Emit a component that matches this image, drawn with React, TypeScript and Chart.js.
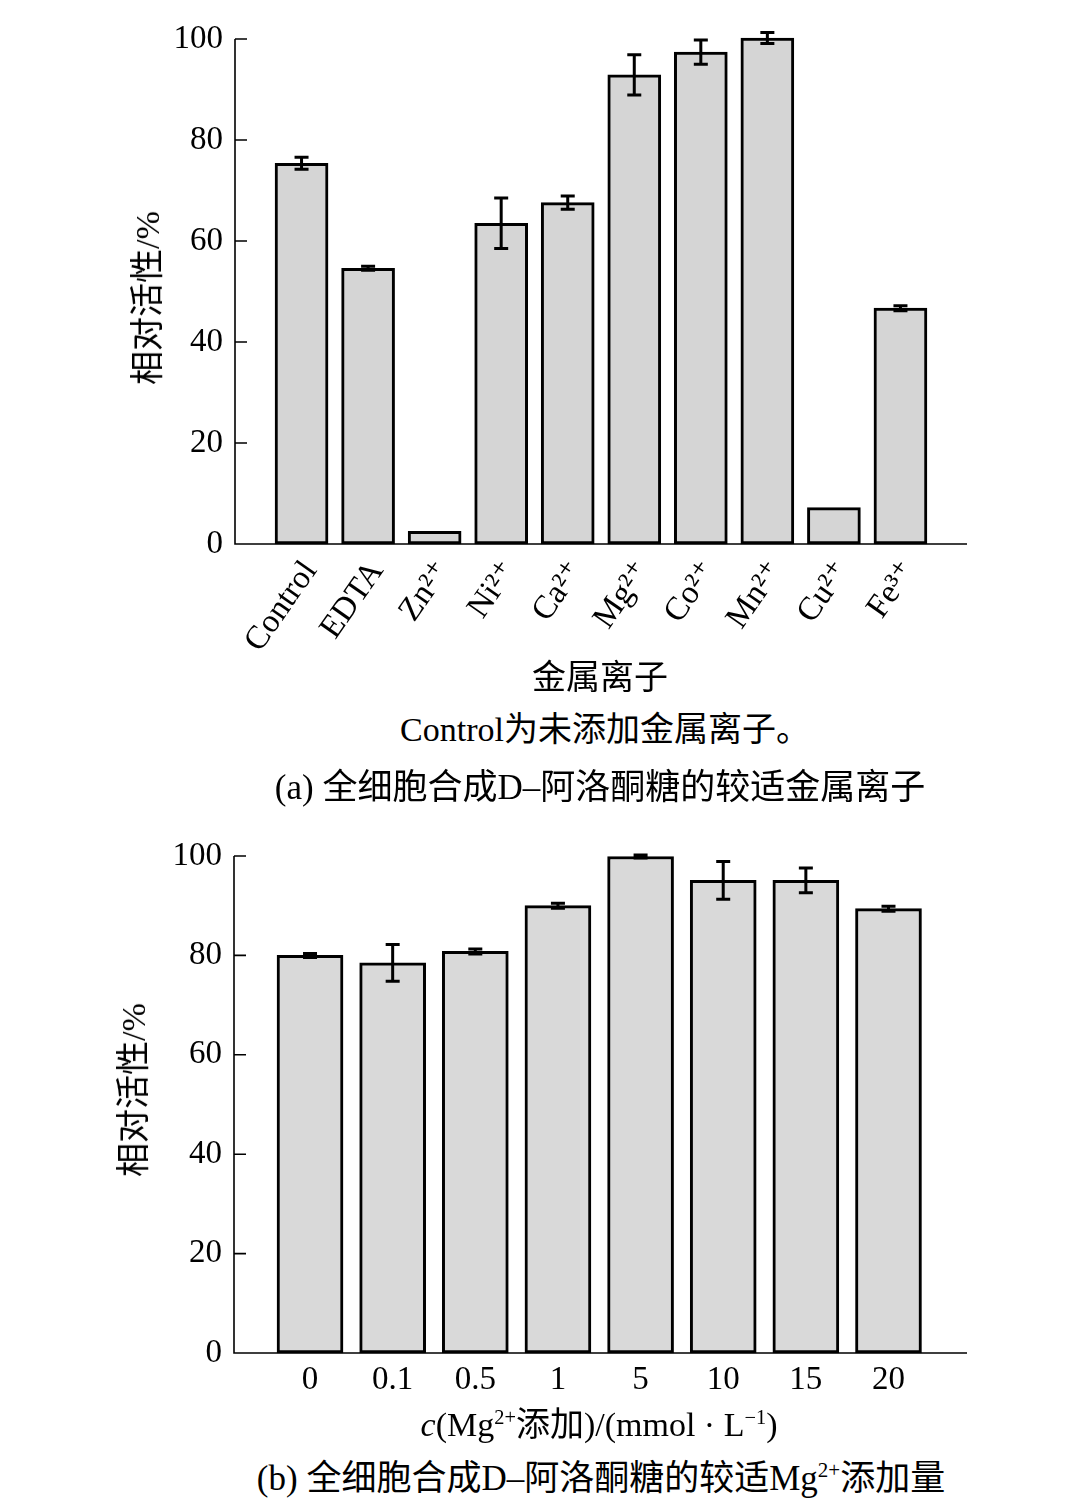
import React, { useEffect, useRef } from "react";
import { Chart, registerables } from "chart.js";

Chart.register(...registerables);

// ---- Data ----
const ionLabels = ["Control", "EDTA", "Zn²⁺", "Ni²⁺", "Ca²⁺", "Mg²⁺", "Co²⁺", "Mn²⁺", "Cu²⁺", "Fe³⁺"];
const ionActivity = [75.4, 54.6, 2.5, 63.5, 67.6, 92.9, 97.4, 100.2, 7.2, 46.7];
const ionError = [1.2, 0.4, 0, 5.0, 1.3, 4.0, 2.4, 1.1, 0, 0.5];

const mgLabels = ["0", "0.1", "0.5", "1", "5", "10", "15", "20"];
const mgActivity = [80.0, 78.5, 80.8, 90.0, 99.9, 95.1, 95.1, 89.4];
const mgError = [0.4, 3.7, 0.5, 0.5, 0.3, 3.8, 2.5, 0.5];

const yTicks = [0, 20, 40, 60, 80, 100];

const SERIF = '"Liberation Serif", "Times New Roman", "DejaVu Serif", serif';
const TEXT_FONT = '"Liberation Serif", "Noto Sans CJK SC", serif';

function makeAxesPlugin(values: number[], errors: number[]) {
  return {
    id: "customAxesErr",
    afterDatasetsDraw(chart: any) {
      const ctx = chart.ctx;
      const meta = chart.getDatasetMeta(0);
      const ys = chart.scales.y;
      ctx.save();
      ctx.strokeStyle = "#000";
      ctx.lineWidth = 3;
      ctx.lineCap = "butt";
      meta.data.forEach((bar: any, i: number) => {
        const e = errors[i];
        if (!e) return;
        const v = values[i];
        const x = bar.x;
        const yt = ys.getPixelForValue(v + e);
        const yb = ys.getPixelForValue(v - e);
        ctx.beginPath();
        ctx.moveTo(x, yt);
        ctx.lineTo(x, yb);
        ctx.moveTo(x - 7, yt);
        ctx.lineTo(x + 7, yt);
        ctx.moveTo(x - 7, yb);
        ctx.lineTo(x + 7, yb);
        ctx.stroke();
      });
      ctx.restore();
    },
    afterDraw(chart: any) {
      const ctx = chart.ctx;
      const { left, right, top, bottom } = chart.chartArea;
      const ys = chart.scales.y;
      ctx.save();
      ctx.strokeStyle = "#000";
      ctx.lineWidth = 1.6;
      ctx.beginPath();
      ctx.moveTo(left, top);
      ctx.lineTo(left, bottom);
      ctx.lineTo(right, bottom);
      yTicks.forEach((t) => {
        const y = ys.getPixelForValue(t);
        ctx.moveTo(left, y);
        ctx.lineTo(left + 12, y);
      });
      ctx.stroke();
      ctx.restore();
    },
  };
}

function BarChart(props: {
  labels: string[];
  values: number[];
  errors: number[];
  xMin: number;
  xMax: number;
  yWidth: number;
  xHeight: number;
  padTop: number;
  padRight: number;
  barThickness: number;
  fill: string;
  rotation: number;
  labelPadding: number;
  labelOffset: number;
  height: number;
  top: number;
}) {
  const ref = useRef<HTMLCanvasElement | null>(null);
  useEffect(() => {
    if (!ref.current) return;
    const p = props;
    const chart = new Chart(ref.current, {
      type: "bar",
      data: {
        datasets: [
          {
            data: p.values.map((v, i) => ({ x: i, y: v })),
            backgroundColor: p.fill,
            borderColor: "#000",
            borderWidth: 3,
            borderSkipped: false,
            barThickness: p.barThickness,
            clip: false as any,
          },
        ],
      },
      options: {
        responsive: false,
        animation: false,
        events: [],
        layout: { padding: { top: p.padTop, right: p.padRight, left: 0, bottom: 0 } },
        plugins: { legend: { display: false }, tooltip: { enabled: false }, title: { display: false } },
        scales: {
          x: {
            type: "linear",
            offset: false,
            min: p.xMin,
            max: p.xMax,
            grid: { display: false, offset: false },
            border: { display: false },
            afterBuildTicks: (s: any) => {
              s.ticks = p.labels.map((_, i) => ({ value: i }));
            },
            afterFit: (s: any) => {
              s.height = p.xHeight;
            },
            ticks: {
              autoSkip: false,
              minRotation: p.rotation,
              maxRotation: p.rotation,
              padding: p.labelPadding,
              labelOffset: p.labelOffset,
              color: "#000",
              font: { family: SERIF, size: 33 },
              callback: (v: any) => p.labels[Math.round(Number(v))] ?? "",
            },
          },
          y: {
            min: 0,
            max: 100,
            grid: { display: false },
            border: { display: false },
            afterBuildTicks: (s: any) => {
              s.ticks = yTicks.map((v) => ({ value: v }));
            },
            afterFit: (s: any) => {
              s.width = p.yWidth;
            },
            ticks: {
              padding: 4,
              color: "#000",
              font: { family: SERIF, size: 33 },
            },
          },
        },
      } as any,
      plugins: [makeAxesPlugin(p.values, p.errors)],
    });
    return () => chart.destroy();
  }, []);
  return (
    <canvas
      ref={ref}
      width={1080}
      height={props.height}
      style={{ position: "absolute", left: 0, top: props.top, width: 1080, height: props.height }}
    />
  );
}

function Txt(props: { x: number; y: number; size: number; rotate?: boolean; children: any }) {
  return (
    <div
      style={{
        position: "absolute",
        left: props.x,
        top: props.y,
        transform: `translate(-50%, -50%)${props.rotate ? " rotate(-90deg)" : ""}`,
        whiteSpace: "nowrap",
        fontFamily: TEXT_FONT,
        fontSize: props.size,
        lineHeight: 1,
        color: "#000",
      }}
    >
      {props.children}
    </div>
  );
}

const supStyle: any = { fontSize: "0.6em", lineHeight: 0, verticalAlign: "0.6em" };

export default function App() {
  return (
    <div
      style={{
        position: "absolute",
        left: 0,
        top: 0,
        width: 1080,
        height: 1503,
        background: "#fff",
        overflow: "hidden",
      }}
    >
      <BarChart
        labels={ionLabels}
        values={ionActivity}
        errors={ionError}
        xMin={-1.0}
        xMax={10.0}
        yWidth={235}
        xHeight={116}
        padTop={39}
        padRight={113}
        barThickness={53}
        fill="#d5d5d5"
        rotation={55}
        labelPadding={2}
        labelOffset={9}
        height={660}
        top={0}
      />
      <BarChart
        labels={mgLabels}
        values={mgActivity}
        errors={mgError}
        xMin={-0.92}
        xMax={7.95}
        yWidth={234}
        xHeight={87}
        padTop={56}
        padRight={113}
        barThickness={66}
        fill="#d9d9d9"
        rotation={0}
        labelPadding={0}
        labelOffset={0}
        height={640}
        top={800}
      />
      <Txt x={148} y={298} size={34} rotate>
        相对活性/%
      </Txt>
      <Txt x={600} y={678} size={34}>
        金属离子
      </Txt>
      <Txt x={605} y={730} size={34}>
        Control为未添加金属离子。
      </Txt>
      <Txt x={600} y={787} size={35}>
        (a) 全细胞合成D–阿洛酮糖的较适金属离子
      </Txt>
      <Txt x={134} y={1090} size={34} rotate>
        相对活性/%
      </Txt>
      <Txt x={599} y={1425} size={34}>
        <i>c</i>(Mg<sup style={supStyle}>2+</sup>添加)/(mmol · L<sup style={supStyle}>−1</sup>)
      </Txt>
      <Txt x={601} y={1478} size={35}>
        (b) 全细胞合成D–阿洛酮糖的较适Mg<sup style={supStyle}>2+</sup>添加量
      </Txt>
    </div>
  );
}
